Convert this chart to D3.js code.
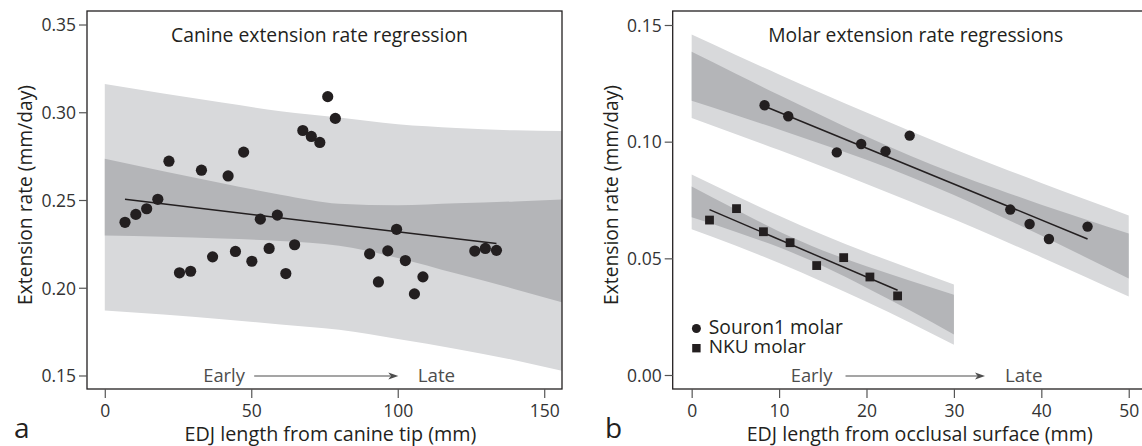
<!DOCTYPE html>
<html><head><meta charset="utf-8">
<script src="https://cdn.jsdelivr.net/npm/d3@7"></script>
<style>
html,body{margin:0;padding:0;background:#fff;}
svg text{font-family:"Open Sans","Noto Sans",sans-serif;}
</style></head>
<body><svg id="chart" width="1142" height="446"></svg>
<script>
// ---------- DATA ----------
// Panel a: canine
const canineX    = [6.9,10.6,14.3,18.1,21.9,25.5,29.3,33.0,36.8,42.1,44.6,47.4,50.2,53.1,56.1,58.9,61.8,64.8,67.6,70.5,73.4,76.1,78.7,90.4,93.4,96.6,99.6,102.6,105.7,108.6,126.3,129.9,133.7];
const canineRate = [0.2373,0.2418,0.2450,0.2504,0.2721,0.2085,0.2094,0.2670,0.2176,0.2637,0.2207,0.2773,0.2151,0.2391,0.2224,0.2414,0.2081,0.2245,0.2896,0.2862,0.2828,0.3089,0.2965,0.2193,0.2033,0.2210,0.2333,0.2155,0.1965,0.2062,0.2209,0.2224,0.2213];
const canineFitX = [6.9, 133.7];
const canineFitY = [0.2504, 0.2252];
const canineBandX     = [0, 20, 40, 60, 80, 100, 120, 140, 156];
const canineCIUpper   = [0.2735,0.2664,0.2596,0.2530,0.2479,0.2470,0.2481,0.2492,0.2503];
const canineCILower   = [0.2297,0.2290,0.2280,0.2266,0.2239,0.2170,0.2081,0.1992,0.1917];
const caninePIUpper   = [0.3161,0.3107,0.3055,0.3006,0.2970,0.2932,0.2911,0.2897,0.2893];
const caninePILower   = [0.1871,0.1847,0.1821,0.1790,0.1760,0.1708,0.1651,0.1587,0.1527];
const canineXTicks = [0, 50, 100, 150];
const canineYTicks = [0.15, 0.20, 0.25, 0.30, 0.35];

// Panel b: molars
const souronX    = [8.34,11.05,16.6,19.39,22.18,24.94,36.45,38.66,40.87,45.29];
const souronRate = [0.1156,0.1109,0.0954,0.0990,0.0959,0.1026,0.0709,0.0647,0.0583,0.0636];
const souronFitX = [8.34, 45.29];
const souronFitY = [0.1152, 0.0583];
const souronBandX   = [0,5,10,15,20,25,30,35,40,45,50];
const souronCIUpper = [0.1385,0.1292,0.1200,0.1110,0.1022,0.0940,0.0865,0.0796,0.0730,0.0668,0.0606];
const souronCILower = [0.1175,0.1114,0.1052,0.0988,0.0922,0.0850,0.0771,0.0686,0.0598,0.0506,0.0414];
const souronPIUpper = [0.1459,0.1373,0.1288,0.1205,0.1125,0.1046,0.0969,0.0895,0.0823,0.0753,0.0684];
const souronPILower = [0.1101,0.1033,0.0964,0.0893,0.0819,0.0744,0.0667,0.0587,0.0505,0.0421,0.0336];

const nkuX    = [2.04,5.13,8.21,11.26,14.30,17.39,20.39,23.56];
const nkuRate = [0.0664,0.0713,0.0614,0.0567,0.0469,0.0503,0.0420,0.0339];
const nkuFitX = [2.04, 23.56];
const nkuFitY = [0.0709, 0.0363];
const nkuBandX   = [0,5,10,15,20,25,30];
const nkuCIUpper = [0.0808,0.0710,0.0615,0.0534,0.0466,0.0404,0.0344];
const nkuCILower = [0.0676,0.0614,0.0547,0.0467,0.0374,0.0276,0.0174];
const nkuPIUpper = [0.0859,0.0769,0.0682,0.0601,0.0526,0.0456,0.0388];
const nkuPILower = [0.0625,0.0555,0.0480,0.0399,0.0314,0.0224,0.0130];

const molarXTicks = [0,10,20,30,40,50];
const molarYTicks = [0.00,0.05,0.10,0.15];

const legendLabels = ["Souron1 molar","NKU molar"];

// ---------- LAYOUT ----------
const svg = d3.select("#chart");
const TOP = 11, BOTTOM = 389;
const INK = "#231f20";
const LIGHT = "#d8d9db", DARK = "#b4b5b8";

function fitText(sel, target){
  sel.style("font-size","20px");
  const w = sel.node().getComputedTextLength();
  sel.style("font-size", (20*target/w).toFixed(2)+"px");
}

function zip(xs, lo, hi){ return xs.map((x,i)=>({x, lo:lo[i], hi:hi[i]})); }

function panel(cfg){
  const x = d3.scaleLinear().domain(cfg.xDomain).range([cfg.left, cfg.right]);
  const y = d3.scaleLinear().domain(cfg.yDomain).range([BOTTOM, TOP]);
  const g = svg.append("g");
  const clipId = "clip"+cfg.id;
  svg.append("clipPath").attr("id",clipId).append("rect")
    .attr("x",cfg.left).attr("y",TOP).attr("width",cfg.right-cfg.left).attr("height",BOTTOM-TOP);
  const plot = g.append("g").attr("clip-path",`url(#${clipId})`);
  const area = d3.area().x(d=>x(d.x)).y0(d=>y(d.lo)).y1(d=>y(d.hi)).curve(d3.curveMonotoneX);
  cfg.bands.forEach(b=>{
    plot.append("path").datum(zip(b.x,b.piLo,b.piHi)).attr("d",area).attr("fill",LIGHT);
    plot.append("path").datum(zip(b.x,b.ciLo,b.ciHi)).attr("d",area).attr("fill",DARK);
  });
  cfg.fits.forEach(f=>{
    plot.append("line").attr("x1",x(f.x[0])).attr("y1",y(f.y[0]))
      .attr("x2",x(f.x[1])).attr("y2",y(f.y[1]))
      .attr("stroke",INK).attr("stroke-width",1.5);
  });
  cfg.series.forEach(s=>{
    const pts = s.x.map((v,i)=>({x:v,y:s.y[i]}));
    if(s.shape==="circle"){
      plot.selectAll(null).data(pts).join("circle")
        .attr("cx",d=>x(d.x)).attr("cy",d=>y(d.y)).attr("r",s.r).attr("fill",INK);
    } else {
      plot.selectAll(null).data(pts).join("rect")
        .attr("x",d=>x(d.x)-s.r).attr("y",d=>y(d.y)-s.r)
        .attr("width",2*s.r).attr("height",2*s.r).attr("fill",INK);
    }
  });
  // frame
  g.append("rect").attr("x",cfg.left).attr("y",TOP).attr("width",cfg.right-cfg.left).attr("height",BOTTOM-TOP)
    .attr("fill","none").attr("stroke",INK).attr("stroke-width",1.3);
  // axes
  const ax = g.append("g").attr("transform",`translate(0,${BOTTOM})`)
    .call(d3.axisBottom(x).tickValues(cfg.xTicks).tickFormat(d3.format("d")).tickSize(9).tickPadding(6));
  const ay = g.append("g").attr("transform",`translate(${cfg.left},0)`)
    .call(d3.axisLeft(y).tickValues(cfg.yTicks).tickFormat(d3.format(".2f")).tickSize(8).tickPadding(3));
  [ax,ay].forEach(a=>{
    a.select(".domain").remove();
    a.selectAll(".tick line").attr("stroke","#555").attr("stroke-width",1.2);
    a.selectAll(".tick text").attr("fill","#333").style("font-size","17.5px").style("font-family",'"Open Sans",sans-serif');
  });
  ay.selectAll(".tick text").attr("dy","0.36em");
  ax.selectAll(".tick text").attr("dy","0.72em");
  // title
  const t = g.append("text").attr("x",cfg.titleX).attr("y",41.7).attr("fill",INK).text(cfg.title);
  fitText(t, cfg.titleW);
  // x label
  const xl = g.append("text").attr("x",cfg.xLabX).attr("y",441).attr("fill",INK).attr("text-anchor","middle").text(cfg.xLabel);
  fitText(xl, cfg.xLabW);
  // y label
  const yl = g.append("text").attr("transform",`translate(${cfg.left-55},195) rotate(-90)`)
    .attr("text-anchor","middle").attr("fill",INK).text("Extension rate (mm/day)");
  fitText(yl, 220);
  // early / late
  const a = cfg.arrow;
  const e = g.append("text").attr("x",x(a.earlyX)).attr("y",381.5).attr("fill","#4d4d4d").text("Early");
  fitText(e, 41.7);
  const l = g.append("text").attr("x",x(a.lateX)).attr("y",381.5).attr("fill","#4d4d4d").text("Late");
  fitText(l, 37.5);
  const ay0 = 376;
  g.append("line").attr("x1",x(a.from)).attr("x2",x(a.to)-8).attr("y1",ay0).attr("y2",ay0)
    .attr("stroke","#4d4d4d").attr("stroke-width",1.2);
  const tx = x(a.to);
  g.append("path").attr("d",`M${tx},${ay0} L${tx-10},${ay0-3.6} L${tx-7.5},${ay0} L${tx-10},${ay0+3.6} Z`).attr("fill","#4d4d4d");
  // panel letter
  g.append("text").attr("x",cfg.letterX).attr("y",438).attr("fill",INK).style("font-size","28px").text(cfg.letter);
  return {x,y,g};
}

panel({
  id:"a", left:87, right:562, xDomain:[-6.07,156.07], yDomain:[0.1423,0.3577],
  xTicks:canineXTicks, yTicks:canineYTicks,
  bands:[{x:canineBandX, ciLo:canineCILower, ciHi:canineCIUpper, piLo:caninePILower, piHi:caninePIUpper}],
  fits:[{x:canineFitX, y:canineFitY}],
  series:[{x:canineX, y:canineRate, shape:"circle", r:5.6}],
  title:"Canine extension rate regression", titleX:171, titleW:297,
  xLabel:"EDJ length from canine tip (mm)", xLabX:330.5, xLabW:292,
  arrow:{earlyX:33.6, from:51.0, to:100.2, lateX:106.8},
  letter:"a", letterX:14
});

const pb = panel({
  id:"b", left:672.7, right:1147.7, xDomain:[-2.17,52.17], yDomain:[-0.006,0.156],
  xTicks:molarXTicks, yTicks:molarYTicks,
  bands:[
    {x:souronBandX, ciLo:souronCILower, ciHi:souronCIUpper, piLo:souronPILower, piHi:souronPIUpper},
    {x:nkuBandX, ciLo:nkuCILower, ciHi:nkuCIUpper, piLo:nkuPILower, piHi:nkuPIUpper}
  ],
  fits:[{x:souronFitX, y:souronFitY},{x:nkuFitX, y:nkuFitY}],
  series:[{x:souronX, y:souronRate, shape:"circle", r:5.2},{x:nkuX, y:nkuRate, shape:"square", r:4.4}],
  title:"Molar extension rate regressions", titleX:768.3, titleW:295,
  xLabel:"EDJ length from occlusal surface (mm)", xLabX:919.7, xLabW:346,
  arrow:{earlyX:11.33, from:17.6, to:33.56, lateX:35.85},
  letter:"b", letterX:605
});

// legend
const lg = pb.g.append("g");
lg.append("circle").attr("cx",696.4).attr("cy",328.5).attr("r",4.5).attr("fill",INK);
lg.append("rect").attr("x",692.2).attr("y",344).attr("width",8.4).attr("height",8.4).attr("fill",INK);
const lt1 = lg.append("text").attr("x",708.8).attr("y",333.5).attr("fill",INK).text(legendLabels[0]);
fitText(lt1, 134);
const lt2 = lg.append("text").attr("x",708.8).attr("y",352.8).attr("fill",INK).text(legendLabels[1]);
fitText(lt2, 97);
</script></body></html>
